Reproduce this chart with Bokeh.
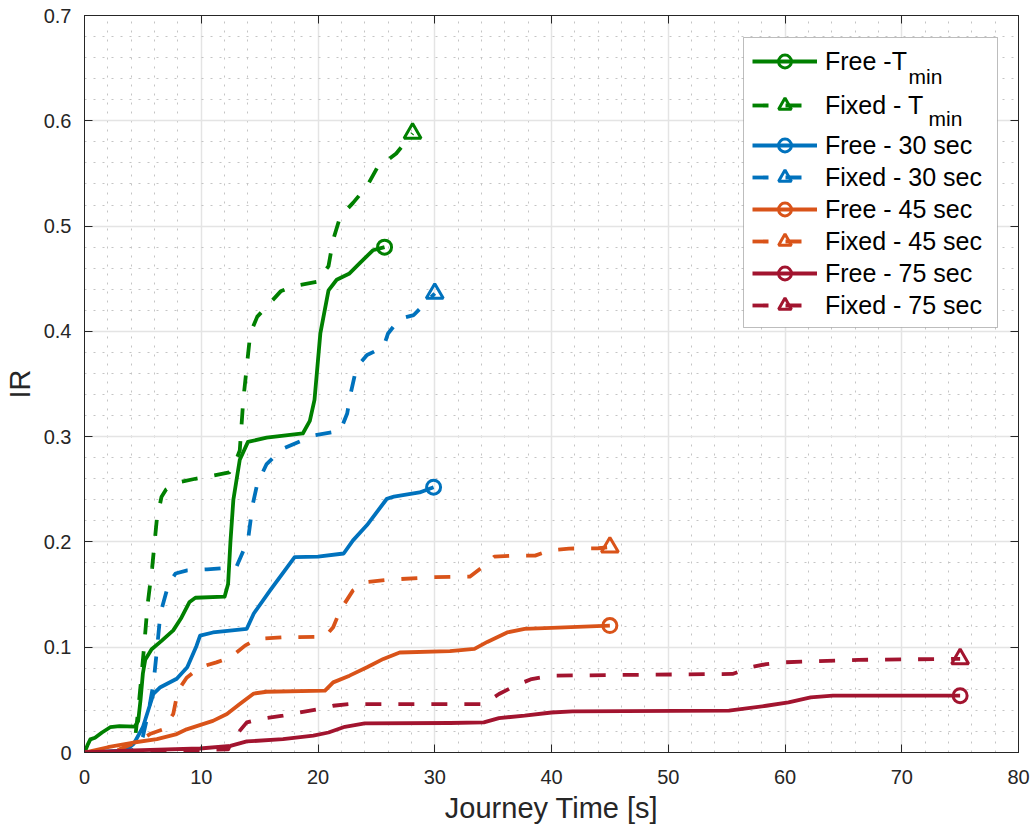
from bokeh.plotting import figure
from bokeh.models import (Range1d, FixedTicker, LinearAxis, Legend, LegendItem,
                          BoxAnnotation, Label, CustomLabelingPolicy)
from bokeh.embed import file_html
from bokeh.resources import INLINE

# ---------------- data ----------------
free_tmin_x = [0, 0.3, 0.5, 0.9, 1.5, 2.2, 3.0, 4.3, 4.6, 4.8, 5.0, 5.2, 5.75, 6.6, 7.6, 8.3, 9.0, 9.5,
               12.0, 12.3, 12.5, 12.75, 13.3, 14.0, 15.6, 18.7, 19.3, 19.7, 20.2, 20.9, 21.6, 22.7,
               23.6, 24.7, 25.7]
free_tmin_y = [0, 0.008, 0.0125, 0.014, 0.019, 0.024, 0.025, 0.0245, 0.03, 0.05, 0.075, 0.088, 0.098,
               0.106, 0.116, 0.128, 0.143, 0.147, 0.148, 0.16, 0.2, 0.24, 0.278, 0.295, 0.299, 0.303,
               0.315, 0.335, 0.398, 0.439, 0.449, 0.455, 0.465, 0.477, 0.48]

fixed_tmin_x = [0, 2, 4.0, 4.3, 4.6, 4.9, 5.1, 5.4, 5.8, 6.2, 6.6, 7.0, 7.6, 8.2, 9.5, 11.0, 12.4, 12.9,
                13.3, 13.6, 14.2, 14.8, 15.9, 16.8, 17.9, 19.9, 20.9, 21.3, 21.9, 23.0, 24.2, 25.3,
                26.0, 26.7, 28.1]
fixed_tmin_y = [0, 0.0005, 0.001, 0.01, 0.04, 0.075, 0.1, 0.14, 0.176, 0.222, 0.243, 0.25, 0.254,
                0.257, 0.26, 0.263, 0.266, 0.275, 0.287, 0.335, 0.398, 0.414, 0.427, 0.438, 0.443,
                0.447, 0.462, 0.487, 0.509, 0.522, 0.538, 0.56, 0.563, 0.569, 0.588]

free_30_x = [0, 2, 3.5, 4.2, 5.0, 5.9, 6.5, 7.9, 8.8, 9.6, 9.9, 11.0, 13.9, 14.5, 15.9, 18.0, 20.0,
             22.2, 23.0, 24.2, 25.9, 26.5, 28.7, 29.9]
free_30_y = [0, 0.001, 0.002, 0.008, 0.024, 0.0556, 0.062, 0.07, 0.081, 0.1015, 0.111, 0.114, 0.1175,
             0.132, 0.154, 0.1855, 0.186, 0.189, 0.2015, 0.216, 0.241, 0.243, 0.247, 0.252]

fixed_30_x = [0, 3, 4.5, 5.0, 5.5, 5.9, 6.2, 6.5, 7.2, 7.8, 8.8, 10.5, 13.0, 14.0, 14.4, 14.8, 15.6,
              17.0, 19.6, 21.9, 22.5, 22.8, 23.3, 24.2, 25.6, 26.0, 27.0, 28.2, 30.0]
fixed_30_y = [0, 0.0005, 0.003, 0.015, 0.04, 0.065, 0.097, 0.132, 0.16, 0.17, 0.173, 0.174, 0.176,
              0.2015, 0.235, 0.2554, 0.274, 0.2887, 0.301, 0.3054, 0.322, 0.341, 0.366, 0.3775,
              0.385, 0.398, 0.412, 0.4155, 0.436]

free_45_x = [0, 2, 4.2, 6.2, 7.9, 8.75, 11.0, 12.2, 13.3, 14.5, 15.6, 20.6, 21.3, 22.7, 24.2, 25.6,
             27.0, 31.3, 33.4, 34.5, 36.2, 37.7, 40.0, 45.0]
free_45_y = [0, 0.005, 0.0095, 0.0127, 0.0175, 0.022, 0.030, 0.0365, 0.046, 0.056, 0.0577, 0.0587,
             0.0666, 0.073, 0.081, 0.0889, 0.095, 0.0962, 0.0984, 0.105, 0.114, 0.1175, 0.1184, 0.1206]

fixed_45_x = [0, 3, 4.5, 5.6, 6.75, 7.6, 8.0, 8.75, 9.9, 11.3, 12.5, 13.75, 14.8, 17.0, 20.6, 21.3,
              21.9, 23.0, 24.2, 25.9, 29.9, 33.0, 34.3, 35.1, 36.9, 38.6, 39.9, 41.5, 44.0, 45.0]
fixed_45_y = [0, 0.003, 0.01, 0.0175, 0.022, 0.0365, 0.0587, 0.071, 0.081, 0.0856, 0.0904, 0.1015,
              0.108, 0.1094, 0.110, 0.119, 0.135, 0.154, 0.162, 0.164, 0.1665, 0.167, 0.178, 0.186,
              0.187, 0.187, 0.192, 0.1937, 0.194, 0.195]

free_75_x = [0, 4.2, 9.9, 12.5, 13.9, 17.0, 19.6, 20.9, 22.3, 24.0, 31.3, 34.2, 35.5, 37.7, 40.0,
             41.8, 55.2, 58.4, 60.3, 62.2, 64.1, 75.0]
free_75_y = [0, 0.002, 0.0038, 0.0063, 0.0105, 0.0127, 0.016, 0.019, 0.0244, 0.0276, 0.028, 0.0286,
             0.0327, 0.035, 0.038, 0.039, 0.0397, 0.0444, 0.0476, 0.0524, 0.054, 0.054]

fixed_75_x = [0, 6, 12.3, 12.7, 13.9, 15.0, 17.0, 19.9, 21.3, 22.7, 34.2, 35.5, 36.9, 38.3, 39.9,
              55.5, 57.1, 58.4, 60.0, 66.3, 75.0]
fixed_75_y = [0, 0.001, 0.003, 0.0127, 0.0286, 0.0317, 0.035, 0.041, 0.0444, 0.046, 0.046, 0.0556,
              0.0635, 0.0698, 0.073, 0.0746, 0.081, 0.084, 0.0857, 0.088, 0.089]

series_labels = ["Free -T", "Fixed - T", "Free - 30 sec", "Fixed - 30 sec",
                 "Free - 45 sec", "Fixed - 45 sec", "Free - 75 sec", "Fixed - 75 sec"]
subscript_text = "min"

x_ticks = [0, 10, 20, 30, 40, 50, 60, 70, 80]
x_tick_labels = ["0", "10", "20", "30", "40", "50", "60", "70", "80"]
y_ticks = [0, 0.1, 0.2, 0.3, 0.4, 0.5, 0.6, 0.7]
y_tick_labels = ["0", "0.1", "0.2", "0.3", "0.4", "0.5", "0.6", "0.7"]
x_minor = [v for v in range(0, 81, 2) if v % 10]
y_minor = [round(i * 0.02, 2) for i in range(0, 36) if i % 5]

# ---------------- styling ----------------
GREEN, BLUE, ORANGE, RED = "#008000", "#0072BD", "#D95319", "#A2142F"
FONT = "Liberation Sans"
AX = "#262626"
DASH = "16 17"

series = [
    (free_tmin_x, free_tmin_y, GREEN, "solid", "circle"),
    (fixed_tmin_x, fixed_tmin_y, GREEN, DASH, "triangle"),
    (free_30_x, free_30_y, BLUE, "solid", "circle"),
    (fixed_30_x, fixed_30_y, BLUE, DASH, "triangle"),
    (free_45_x, free_45_y, ORANGE, "solid", "circle"),
    (fixed_45_x, fixed_45_y, ORANGE, DASH, "triangle"),
    (free_75_x, free_75_y, RED, "solid", "circle"),
    (fixed_75_x, fixed_75_y, RED, DASH, "triangle"),
]

FL, FT, FW, FH = 84, 15, 934, 737

p = figure(frame_width=FW, frame_height=FH, x_range=Range1d(0, 80), y_range=Range1d(0, 0.7),
           output_backend="svg", toolbar_location=None,
           min_border_left=FL, min_border_top=FT, min_border_right=1032 - FL - FW,
           min_border_bottom=829 - FT - FH)
p.background_fill_color = "white"
p.border_fill_color = "white"
p.outline_line_color = AX
p.outline_line_width = 1

xt = FixedTicker(ticks=x_ticks, minor_ticks=x_minor)
yt = FixedTicker(ticks=y_ticks, minor_ticks=y_minor)


def style_axis(ax, ticker, overrides, labels=True):
    ax.ticker = ticker
    ax.axis_line_color = AX
    ax.axis_line_width = 1
    ax.major_tick_line_color = AX
    ax.major_tick_line_width = 1
    ax.major_tick_in = 8
    ax.major_tick_out = 0
    ax.minor_tick_line_color = None
    if labels:
        ax.major_label_overrides = overrides
        ax.major_label_text_font = FONT
        ax.major_label_text_font_size = "20px"
        ax.major_label_text_color = AX
        ax.axis_label_text_font = FONT
        ax.axis_label_text_font_size = "29px"
        ax.axis_label_text_font_style = "normal"
        ax.axis_label_text_color = AX
    else:
        # tick marks only (box-style axes): draw no tick labels at all
        ax.major_label_text_font_size = "0px"
        ax.major_label_standoff = 0
        ax.major_label_policy = CustomLabelingPolicy(
            code="for (const i of indices) { indices.unset(i) } return indices")


xover = {t: l for t, l in zip(x_ticks, x_tick_labels)}
yover = {t: l for t, l in zip(y_ticks, y_tick_labels)}

style_axis(p.xaxis[0], xt, xover)
style_axis(p.yaxis[0], yt, yover)
p.xaxis[0].axis_label = "Journey Time [s]"
p.yaxis[0].axis_label = "IR"
p.xaxis[0].major_label_standoff = 13
p.xaxis[0].axis_label_standoff = 5
p.yaxis[0].major_label_standoff = 9
p.yaxis[0].axis_label_standoff = 5

top_ax = LinearAxis()
style_axis(top_ax, FixedTicker(ticks=x_ticks), None, labels=False)
right_ax = LinearAxis()
style_axis(right_ax, FixedTicker(ticks=y_ticks), None, labels=False)
p.add_layout(top_ax, "above")
p.add_layout(right_ax, "right")

for g, t in ((p.xgrid[0], xt), (p.ygrid[0], yt)):
    g.ticker = t
    g.grid_line_color = "#e4e4e4"
    g.grid_line_width = 1.5
    g.minor_grid_line_color = "#c4c4c4"
    g.minor_grid_line_width = 1
    g.minor_grid_line_dash = "2 7"

items = []
for (xs, ys, col, dash, mk), lab in zip(series, series_labels):
    lr = p.line(xs, ys, line_color=col, line_width=3.8, line_dash=dash, line_join="round")
    sz = 14 if mk == "circle" else 17
    mr = p.scatter([xs[-1]], [ys[-1]], marker=mk, size=sz, fill_color=None,
                   line_color=col, line_width=3)
    items.append(LegendItem(label=lab, renderers=[lr, mr]))

# legend frame (canvas box 743..997 x 37..327)
box = BoxAnnotation(left=743 - FL, right=997 - FL, top=FT + FH - 37, bottom=FT + FH - 327,
                    left_units="screen", right_units="screen", top_units="screen",
                    bottom_units="screen", fill_color="white", fill_alpha=1.0,
                    line_color="#262626", line_width=1, level="annotation")
p.add_layout(box)


def make_legend(its, loc, spacing):
    lg = Legend(items=its, location=loc, orientation="vertical")
    lg.padding = 0
    lg.margin = 0
    lg.spacing = spacing
    lg.border_line_color = None
    lg.background_fill_alpha = 0
    lg.glyph_width = 65
    lg.glyph_height = 32
    lg.label_height = 32
    lg.label_standoff = 8
    lg.label_text_font = FONT
    lg.label_text_font_size = "25px"
    lg.label_text_color = "black"
    return lg


legA = make_legend(items[:2], (752 - FL, FT + FH - 121), 12)
legB = make_legend(items[2:], (752 - FL, FT + FH - 321), 0)
p.add_layout(legA)
p.add_layout(legB)

for sx, sy in ((908, 76), (928, 118)):
    p.add_layout(Label(x=sx - FL, y=FT + FH - sy, x_units="screen", y_units="screen",
                       text=subscript_text, text_font=FONT, text_font_size="21px",
                       text_color="black", text_baseline="middle", text_align="left"))

open("out.html", "w").write(file_html(p, INLINE))
